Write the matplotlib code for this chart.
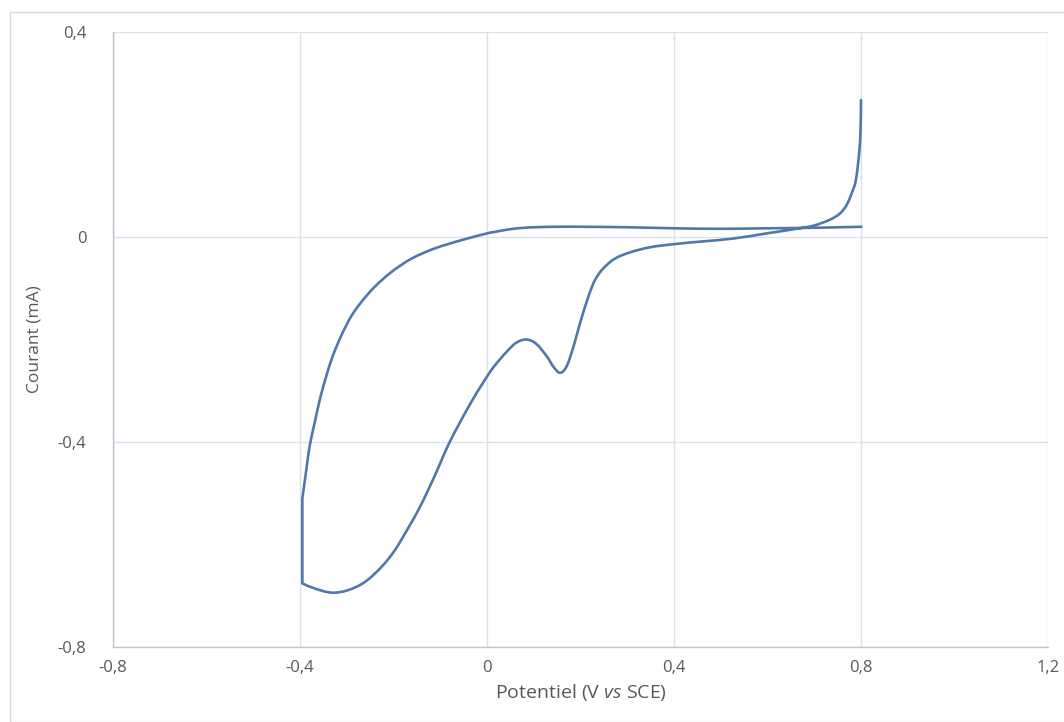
import numpy as np
import matplotlib
matplotlib.use("Agg")
import matplotlib.pyplot as plt
from matplotlib.ticker import FuncFormatter
from matplotlib.patches import Rectangle, PathPatch
from matplotlib.path import Path

plt.rcParams['font.family'] = ['Open Sans', 'DejaVu Sans']
plt.rcParams['mathtext.fontset'] = 'custom'
plt.rcParams['mathtext.rm'] = 'Open Sans'
plt.rcParams['mathtext.it'] = 'Open Sans:italic'

# cyclic voltammogram (V vs SCE, mA)
# forward (cathodic) sweep from 0.8 V down to -0.4 V
pot_fwd = [0.801, 0.70, 0.60, 0.50, 0.40, 0.30, 0.20, 0.156, 0.10, 0.056, 0.017,
           0.0, -0.054, -0.111, -0.161, -0.204, -0.240, -0.268, -0.290, -0.311,
           -0.329, -0.343, -0.357, -0.368, -0.379, -0.386, -0.393, -0.395]
cur_fwd = [0.020, 0.018, 0.017, 0.016, 0.017, 0.019, 0.020, 0.020, 0.019, 0.016,
           0.010, 0.007, -0.006, -0.022, -0.042, -0.068, -0.097, -0.126, -0.154,
           -0.191, -0.230, -0.269, -0.315, -0.360, -0.406, -0.451, -0.497, -0.510]

# reverse (anodic) sweep back to 0.8 V
pot_rev = [-0.395, -0.368, -0.332, -0.297, -0.261, -0.225, -0.197, -0.168,
           -0.147, -0.126, -0.105, -0.083, -0.058, -0.033, -0.011, 0.013, 0.042,
           0.063, 0.085, 0.106, 0.128, 0.142, 0.156, 0.170, 0.185, 0.199,
           0.217, 0.231, 0.249, 0.274, 0.306, 0.349, 0.399, 0.456, 0.527, 0.598,
           0.655, 0.698, 0.734, 0.755, 0.769, 0.780, 0.789, 0.796, 0.799, 0.800]
cur_rev = [-0.676, -0.686, -0.694, -0.689, -0.673, -0.643, -0.611, -0.567,
           -0.533, -0.494, -0.452, -0.406, -0.362, -0.321, -0.288, -0.255, -0.224,
           -0.206, -0.200, -0.209, -0.233, -0.253, -0.265, -0.253, -0.214, -0.168,
           -0.116, -0.084, -0.061, -0.042, -0.030, -0.020, -0.014, -0.009,
           -0.003, 0.007, 0.015, 0.022, 0.034, 0.046, 0.062, 0.085, 0.111, 0.163,
           0.209, 0.267]

line_col = '#5078AA'
grid_col = '#D9E1EA'
spine_col = '#BCC6D1'
text_col = '#595959'


def smooth_path(xs, ys):
    # Excel-like smoothed line: cubic Bezier through the points (Catmull-Rom tangents)
    p = np.column_stack([xs, ys])
    n = len(p)
    t = np.zeros_like(p)
    t[1:-1] = (p[2:] - p[:-2]) / 2.0
    t[0] = p[1] - p[0]
    t[-1] = p[-1] - p[-2]
    verts = [p[0]]
    codes = [Path.MOVETO]
    for i in range(n - 1):
        verts += [p[i] + t[i] / 3.0, p[i + 1] - t[i + 1] / 3.0, p[i + 1]]
        codes += [Path.CURVE4] * 3
    return verts, codes


v1, c1 = smooth_path(pot_fwd, cur_fwd)
v2, c2 = smooth_path(pot_rev, cur_rev)
# the vertical step at -0.4 V joins both sweeps with a straight segment
c2[0] = Path.LINETO
cv_path = Path(np.array(v1 + v2), c1 + c2)

fig = plt.figure(figsize=(10.64, 7.22), dpi=100)
fig.patches.append(Rectangle((10 / 1064, 0.0), 1.0, 1 - 12 / 722, transform=fig.transFigure,
                             fill=False, edgecolor='#D9D9D9', linewidth=1.0))
ax = fig.add_axes([113 / 1064, 1 - 647 / 722, (1048 - 113) / 1064, (647 - 32) / 722])

ax.add_patch(PathPatch(cv_path, fill=False, edgecolor=line_col, linewidth=1.9,
                       joinstyle='round', capstyle='round'))

ax.set_xlim(-0.8, 1.2)
ax.set_ylim(-0.8, 0.4)
ax.set_xticks([-0.8, -0.4, 0, 0.4, 0.8, 1.2])
ax.set_yticks([-0.8, -0.4, 0, 0.4])


def comma(v, pos):
    if abs(v) < 1e-9:
        return '0'
    return ('%.1f' % v).replace('.', ',')


ax.xaxis.set_major_formatter(FuncFormatter(comma))
ax.yaxis.set_major_formatter(FuncFormatter(comma))

ax.grid(True, color=grid_col, linewidth=1.0)
ax.set_axisbelow(True)
for s in ['top', 'right']:
    ax.spines[s].set_visible(False)
for s in ['left', 'bottom']:
    ax.spines[s].set_color(spine_col)
    ax.spines[s].set_linewidth(1.0)
ax.tick_params(length=0, colors=text_col, labelsize=12)
ax.tick_params(axis='y', pad=19)
ax.tick_params(axis='x', pad=9)

ax.set_xlabel(r'Potentiel (V $\mathit{vs}$ SCE)', color=text_col, fontsize=14, labelpad=5)
ax.set_ylabel('Courant (mA)', color=text_col, fontsize=12.5, labelpad=11)

fig.savefig('out.png', dpi=100)
